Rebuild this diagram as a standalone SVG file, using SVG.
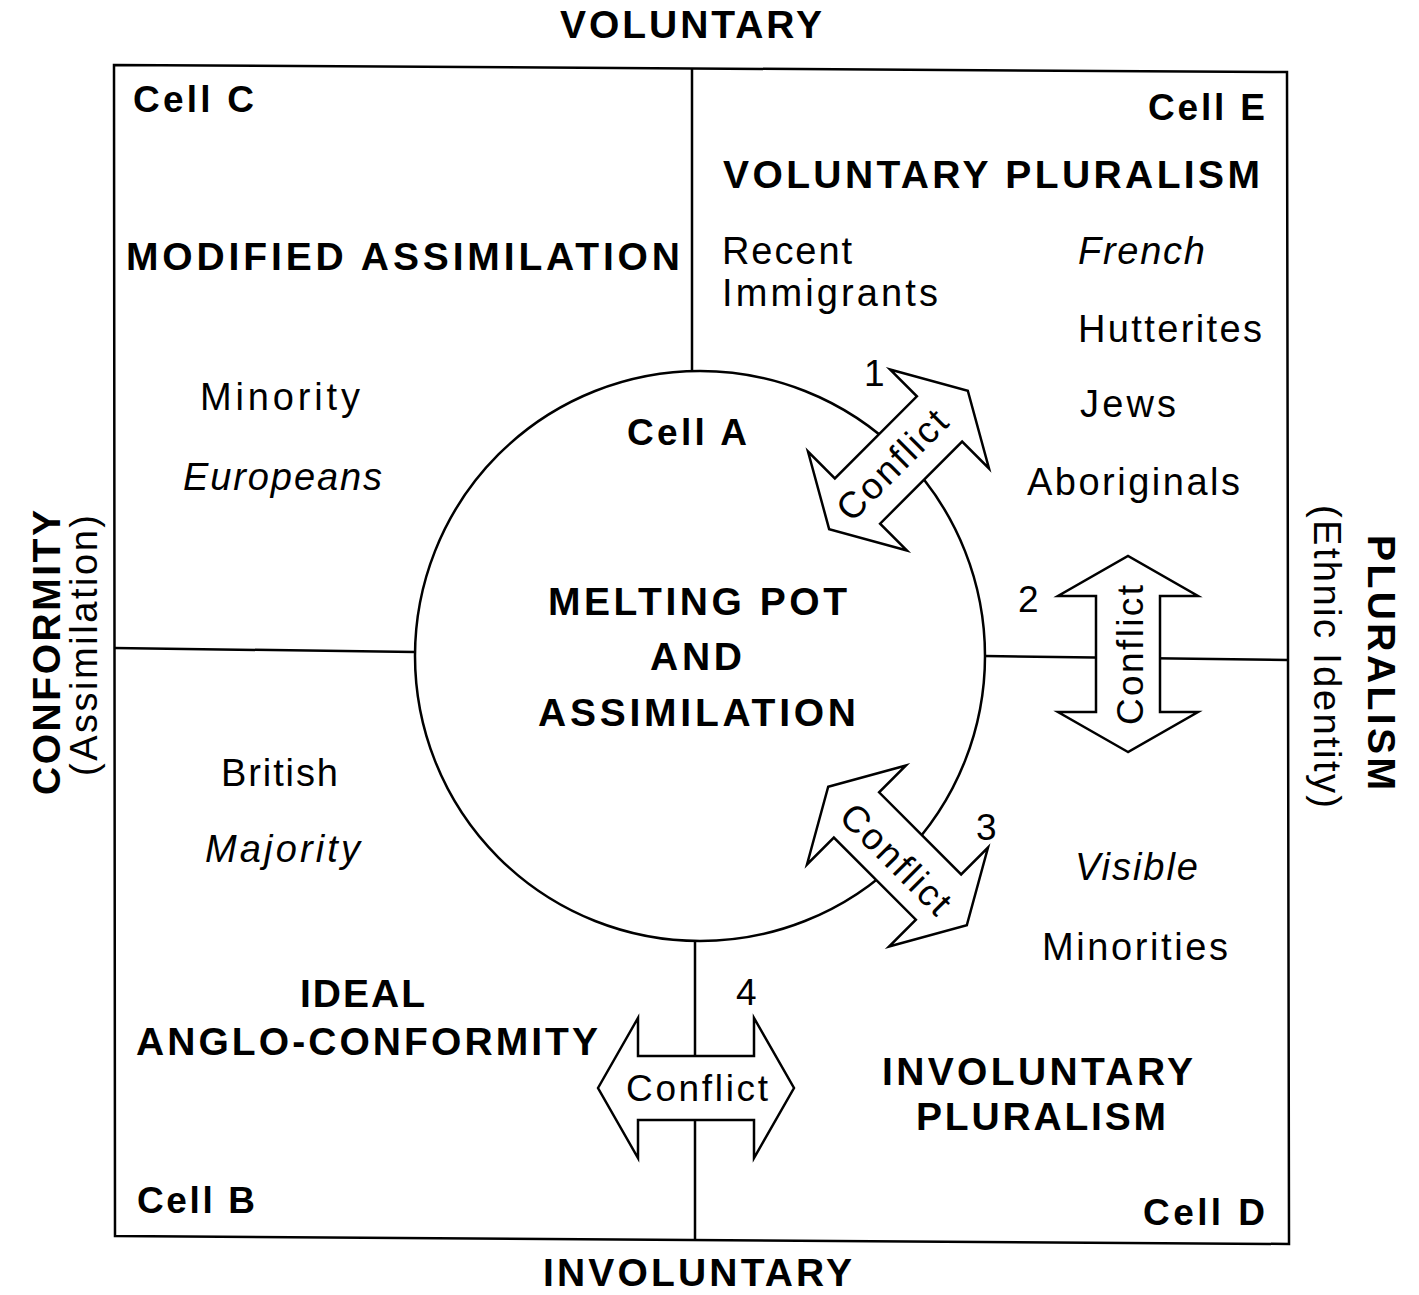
<svg xmlns="http://www.w3.org/2000/svg" xmlns:xlink="http://www.w3.org/1999/xlink" width="1419" height="1295" viewBox="0 0 1419 1295">
<style>
.ln{fill:none;stroke:#000;stroke-width:2.5}
.arr{fill:#fff;stroke:#000;stroke-width:2.5;stroke-linejoin:miter}
text{font-family:"Liberation Sans",Arial,sans-serif;fill:#000}
.b{font-weight:bold;font-size:39px}
.cell{font-weight:bold;font-size:37px}
.r{font-size:38px}
.i{font-size:38px;font-style:italic}
.n{font-size:37px}
.c{font-size:37px;text-anchor:middle}
</style>
<defs>
<path id="dbl" d="M -98,0 L -58,-70 L -58,-32 L 58,-32 L 58,-70 L 98,0 L 58,70 L 58,32 L -58,32 L -58,70 Z"/>
</defs>
<rect width="1419" height="1295" fill="#fff"/>
<g id="frame">
<polygon class="ln" points="114,65 1287,72 1289,1244 115,1236"/>
<line class="ln" x1="692" y1="68" x2="692" y2="371"/>
<line class="ln" x1="695" y1="941" x2="695" y2="1240"/>
<line class="ln" x1="114" y1="648" x2="415" y2="652"/>
<line class="ln" x1="985" y1="656" x2="1288" y2="660"/>
</g>
<g id="cellA">
<circle class="ln" cx="700" cy="656" r="285"/>
<text class="cell" x="627" y="445" textLength="120" lengthAdjust="spacing">Cell A</text>
<text class="b" x="548" y="615" textLength="299" lengthAdjust="spacing">MELTING POT</text>
<text class="b" x="650" y="670" textLength="92" lengthAdjust="spacing">AND</text>
<text class="b" x="538" y="726" textLength="318" lengthAdjust="spacing">ASSIMILATION</text>
</g>
<g id="connectors">
<g id="conflict1">
<use href="#dbl" xlink:href="#dbl" class="arr" transform="translate(898.5,460) rotate(-45)"/>
<text class="c" transform="translate(901,474) rotate(-45)" textLength="140" lengthAdjust="spacing">Conflict</text>
<text class="n" x="864" y="386">1</text>
</g>
<g id="conflict2">
<use href="#dbl" xlink:href="#dbl" class="arr" transform="translate(1128,654) rotate(-90)"/>
<text class="c" transform="translate(1143,655) rotate(-90)" textLength="140" lengthAdjust="spacing">Conflict</text>
<text class="n" x="1018" y="612">2</text>
</g>
<g id="conflict3">
<use href="#dbl" xlink:href="#dbl" class="arr" transform="translate(897.5,856) rotate(45)"/>
<text class="c" transform="translate(887,868) rotate(45)" textLength="140" lengthAdjust="spacing">Conflict</text>
<text class="n" x="976" y="840">3</text>
</g>
<g id="conflict4">
<use href="#dbl" xlink:href="#dbl" class="arr" transform="translate(696,1088)"/>
<text class="c" x="697" y="1101" textLength="142" lengthAdjust="spacing">Conflict</text>
<text class="n" x="736" y="1005">4</text>
</g>
</g>
<g id="axes">
<text class="b" x="560" y="38" textLength="262" lengthAdjust="spacing">VOLUNTARY</text>
<text class="b" x="543" y="1286" textLength="309" lengthAdjust="spacing">INVOLUNTARY</text>
<text class="b" transform="translate(60,795) rotate(-90)" textLength="285" lengthAdjust="spacing">CONFORMITY</text>
<text class="r" transform="translate(97,776) rotate(-90)" textLength="261" lengthAdjust="spacing">(Assimilation)</text>
<text class="b" transform="translate(1368,535) rotate(90)" textLength="255" lengthAdjust="spacing">PLURALISM</text>
<text class="r" transform="translate(1314,505) rotate(90)" textLength="303" lengthAdjust="spacing">(Ethnic Identity)</text>
</g>
<g id="cellC">
<text class="cell" x="133" y="112" textLength="121" lengthAdjust="spacing">Cell C</text>
<text class="b" x="126" y="270" textLength="554" lengthAdjust="spacing">MODIFIED ASSIMILATION</text>
<text class="r" x="200" y="410" textLength="160" lengthAdjust="spacing">Minority</text>
<text class="i" x="183" y="490" textLength="199" lengthAdjust="spacing">Europeans</text>
</g>
<g id="cellE">
<text class="cell" x="1148" y="120" textLength="117" lengthAdjust="spacing">Cell E</text>
<text class="b" x="723" y="188" textLength="537" lengthAdjust="spacing">VOLUNTARY PLURALISM</text>
<text class="r" x="722" y="264" textLength="130" lengthAdjust="spacing">Recent</text>
<text class="r" x="722" y="306" textLength="216" lengthAdjust="spacing">Immigrants</text>
<text class="i" x="1078" y="264" textLength="127" lengthAdjust="spacing">French</text>
<text class="r" x="1078" y="342" textLength="184" lengthAdjust="spacing">Hutterites</text>
<text class="r" x="1080" y="417" textLength="96" lengthAdjust="spacing">Jews</text>
<text class="r" x="1027" y="495" textLength="213" lengthAdjust="spacing">Aboriginals</text>
</g>
<g id="cellB">
<text class="r" x="221" y="786" textLength="117" lengthAdjust="spacing">British</text>
<text class="i" x="205" y="862" textLength="155" lengthAdjust="spacing">Majority</text>
<text class="b" x="300" y="1007" textLength="125" lengthAdjust="spacing">IDEAL</text>
<text class="b" x="136" y="1055" textLength="462" lengthAdjust="spacing">ANGLO-CONFORMITY</text>
<text class="cell" x="137" y="1213" textLength="118" lengthAdjust="spacing">Cell B</text>
</g>
<g id="cellD">
<text class="i" x="1075" y="880" textLength="123" lengthAdjust="spacing">Visible</text>
<text class="r" x="1042" y="960" textLength="186" lengthAdjust="spacing">Minorities</text>
<text class="b" x="882" y="1085" textLength="311" lengthAdjust="spacing">INVOLUNTARY</text>
<text class="b" x="916" y="1130" textLength="250" lengthAdjust="spacing">PLURALISM</text>
<text class="cell" x="1143" y="1225" textLength="122" lengthAdjust="spacing">Cell D</text>
</g>
</svg>
